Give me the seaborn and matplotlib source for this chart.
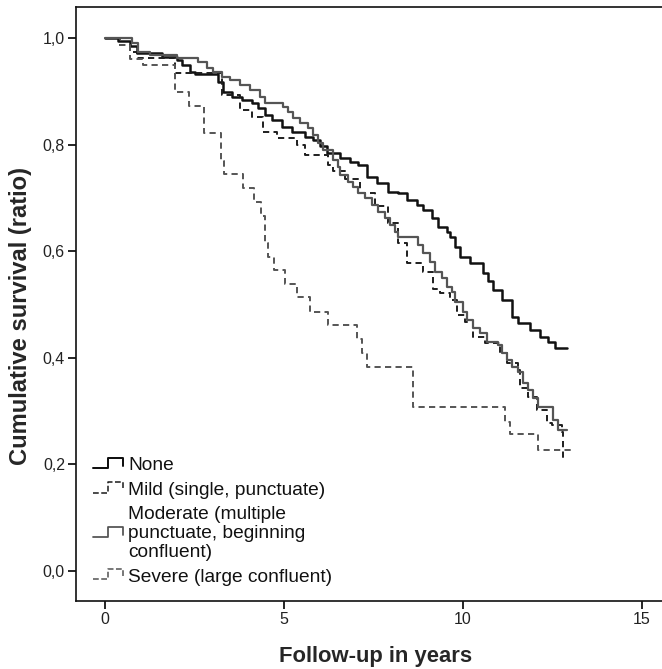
import matplotlib
matplotlib.use("Agg")
import matplotlib.pyplot as plt
import seaborn as sns
import pandas as pd
from matplotlib.lines import Line2D
from matplotlib.legend_handler import HandlerBase

# ---------------- data ----------------
none_t = [0.0, 0.36, 0.70, 0.89, 1.59, 2.01, 2.15, 2.37, 2.51, 3.16, 3.30, 3.55, 3.83,
          4.11, 4.27, 4.47, 4.66, 4.94, 5.22, 5.59, 5.81, 6.00, 6.20, 6.56, 6.84, 7.07,
          7.32, 7.60, 7.91, 8.18, 8.44, 8.72, 8.88, 9.13, 9.30, 9.55, 9.64, 9.78, 9.92,
          10.20, 10.56, 10.70, 10.84, 11.09, 11.37, 11.54, 11.87, 12.15, 12.37, 12.57, 12.91]
none_s = [1.000, 0.995, 0.985, 0.972, 0.964, 0.959, 0.949, 0.936, 0.932, 0.917, 0.899, 0.889, 0.884,
          0.878, 0.869, 0.856, 0.846, 0.833, 0.824, 0.814, 0.809, 0.797, 0.784, 0.775, 0.767, 0.762,
          0.739, 0.728, 0.711, 0.709, 0.696, 0.687, 0.677, 0.662, 0.645, 0.636, 0.627, 0.608, 0.589,
          0.578, 0.559, 0.544, 0.527, 0.508, 0.477, 0.465, 0.452, 0.439, 0.430, 0.418, 0.418]

mild_t = [0.0, 0.42, 0.70, 0.89, 1.96, 3.27, 3.77, 4.11, 4.41, 4.80, 5.36, 5.59, 6.23, 6.37,
          6.70, 7.12, 7.54, 7.91, 8.18, 8.44, 8.88, 9.16, 9.36, 9.64, 9.83, 10.06, 10.28,
          10.61, 11.03, 11.23, 11.54, 11.59, 11.82, 12.07, 12.35, 12.49, 12.77, 12.79, 12.82]
mild_s = [1.000, 0.987, 0.974, 0.962, 0.934, 0.893, 0.865, 0.852, 0.824, 0.812, 0.799, 0.780, 0.762, 0.750,
          0.735, 0.710, 0.685, 0.653, 0.615, 0.578, 0.561, 0.530, 0.522, 0.508, 0.480, 0.467, 0.439,
          0.428, 0.409, 0.390, 0.377, 0.343, 0.327, 0.302, 0.278, 0.274, 0.261, 0.208, 0.208]

moderate_t = [0.0, 0.75, 0.92, 1.26, 2.01, 2.60, 2.85, 3.02, 3.27, 3.49, 3.77, 4.05, 4.33,
              4.47, 4.97, 5.11, 5.25, 5.45, 5.67, 5.81, 5.95, 6.09, 6.37, 6.51, 6.56, 6.79,
              6.93, 7.07, 7.26, 7.46, 7.63, 7.82, 7.96, 8.10, 8.18, 8.74, 8.88, 9.08, 9.22,
              9.41, 9.55, 9.69, 9.78, 10.00, 10.11, 10.28, 10.47, 10.67, 10.98, 11.09, 11.23,
              11.37, 11.54, 11.68, 11.82, 11.96, 12.09, 12.51, 12.65, 12.91]
moderate_s = [1.000, 0.991, 0.974, 0.968, 0.962, 0.955, 0.944, 0.936, 0.927, 0.921, 0.912, 0.902, 0.889,
              0.878, 0.871, 0.861, 0.850, 0.840, 0.831, 0.818, 0.803, 0.790, 0.771, 0.758, 0.743, 0.730,
              0.720, 0.709, 0.700, 0.687, 0.674, 0.662, 0.649, 0.636, 0.627, 0.612, 0.597, 0.580, 0.561,
              0.550, 0.533, 0.523, 0.505, 0.486, 0.471, 0.456, 0.447, 0.430, 0.424, 0.409, 0.396,
              0.383, 0.373, 0.353, 0.340, 0.325, 0.308, 0.283, 0.265, 0.265]

severe_t = [0.0, 0.42, 0.70, 1.06, 1.96, 2.35, 2.77, 3.25, 3.32, 3.86, 4.16, 4.36, 4.47, 4.55,
            4.72, 5.03, 5.36, 5.73, 6.23, 7.04, 7.18, 7.32, 8.60, 11.17, 11.31, 12.09, 13.04]
severe_s = [1.000, 0.987, 0.960, 0.949, 0.899, 0.872, 0.821, 0.770, 0.745, 0.718, 0.693, 0.666, 0.615, 0.589,
            0.565, 0.538, 0.514, 0.486, 0.462, 0.435, 0.409, 0.383, 0.308, 0.280, 0.257, 0.227, 0.227]

labels = ["None", "Mild (single, punctuate)",
          "Moderate (multiple\npunctuate, beginning\nconfluent)",
          "Severe (large confluent)"]
x_ticks = [0, 5, 10, 15]
y_ticks = [0.0, 0.2, 0.4, 0.6, 0.8, 1.0]
y_tick_labels = ["0,0", "0,2", "0,4", "0,6", "0,8", "1,0"]

series = [(none_t, none_s), (mild_t, mild_s), (moderate_t, moderate_s), (severe_t, severe_s)]
styles = [dict(color="#111111", linestyle="-", linewidth=1.8),
          dict(color="#1e1e1e", linestyle=(0, (3.2, 2.2)), linewidth=1.4),
          dict(color="#555555", linestyle="-", linewidth=1.6),
          dict(color="#555555", linestyle=(0, (3.2, 2.2)), linewidth=1.4)]

# ---------------- figure ----------------
sns.set_theme(style="white")
plt.rcParams["font.family"] = ["Liberation Sans", "DejaVu Sans"]

fig = plt.figure(figsize=(6.62, 6.69), dpi=100)
ax = fig.add_axes([76 / 662, 68 / 669, 590 / 662, 594 / 669])

handles = []
for (t, s), lab, st in zip(series, labels, styles):
    df = pd.DataFrame({"t": t, "s": s})
    sns.lineplot(data=df, x="t", y="s", ax=ax, drawstyle="steps-post",
                 errorbar=None, estimator=None, sort=False, **st)
    handles.append(Line2D([], [], **st))

ax.set_xlim(-0.81, 15.67)
ax.set_ylim(-0.056, 1.058)
ax.set_xticks(x_ticks)
ax.set_xticklabels([str(v) for v in x_ticks])
ax.set_yticks(y_ticks)
ax.set_yticklabels(y_tick_labels)
ax.tick_params(axis="both", direction="out", length=6, width=1.2, color="black",
               labelsize=11.5, labelcolor="#222222", pad=2, left=True, bottom=True)
for side in ["left", "bottom", "top"]:
    ax.spines[side].set_visible(True)
    ax.spines[side].set_color("#111111")
    ax.spines[side].set_linewidth(1.2)
ax.spines["right"].set_visible(False)
ax.grid(False)

ax.set_xlabel("Follow-up in years", fontsize=15.8, fontweight="bold", labelpad=15)
ax.set_ylabel("Cumulative survival (ratio)", fontsize=17.1, fontweight="bold", labelpad=6)
ax.xaxis.set_label_coords(0.508, -0.075)
ax.yaxis.set_label_coords(-0.0746, 0.48)


class StepHandler(HandlerBase):
    def create_artists(self, legend, orig_handle, xdescent, ydescent, width, height,
                       fontsize, trans):
        x0 = -xdescent
        y0 = -ydescent
        xs = [x0, x0 + 0.5 * width, x0 + 0.5 * width, x0 + width, x0 + width]
        ys = [y0 + 0.2 * height, y0 + 0.2 * height, y0 + 0.95 * height,
              y0 + 0.95 * height, y0 + 0.35 * height]
        ln = Line2D(xs, ys, color=orig_handle.get_color(),
                    linestyle=orig_handle.get_linestyle(),
                    linewidth=orig_handle.get_linewidth() * 0.8)
        ln.set_transform(trans)
        return [ln]


leg = ax.legend(handles, labels, loc="lower left", bbox_to_anchor=(17 / 590, 0.026),
                frameon=False, fontsize=13.8, handlelength=1.56, handletextpad=0.26,
                labelspacing=0.38, borderpad=0, borderaxespad=0,
                handler_map={Line2D: StepHandler()})
for txt in leg.get_texts():
    txt.set_linespacing(1.13)
    txt.set_color("#111111")

fig.savefig("out.png", dpi=100)
